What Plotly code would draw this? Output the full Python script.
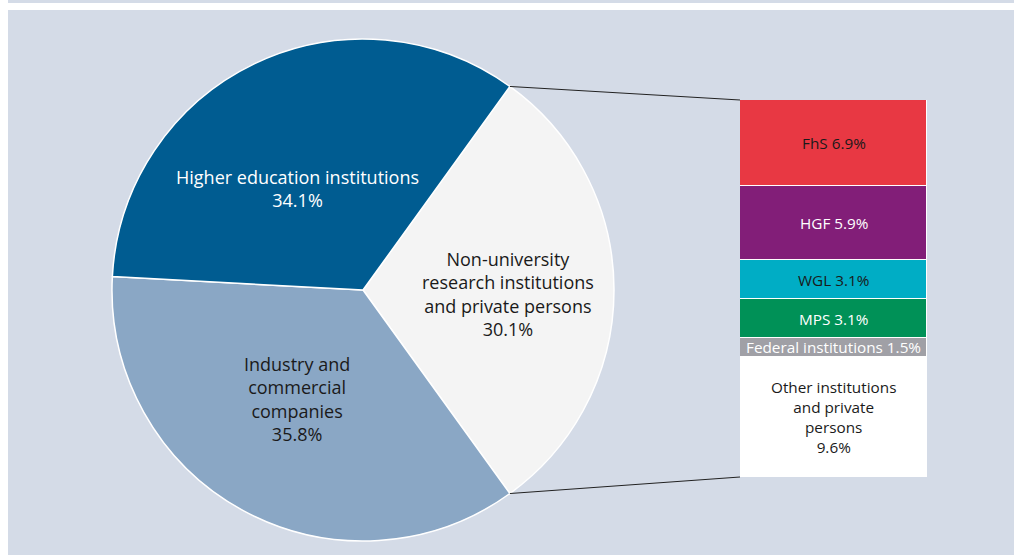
import math
import plotly.graph_objects as go

# Main breakdown (pie), clockwise from the upper-right edge
pie_labels = ["Non-university research institutions and private persons",
              "Industry and commercial companies",
              "Higher education institutions"]
pie_text = ["Non-university<br>research institutions<br>and private persons",
            "Industry and<br>commercial<br>companies",
            "Higher education institutions"]
pie_values = [30.1, 35.8, 34.1]
pie_colors = ["#f4f4f4", "#8aa7c5", "#005c91"]
pie_text_colors = ["#1a1a1a", "#1a1a1a", "#ffffff"]

# Breakdown of the non-university share (stacked bar, bottom to top)
bar_labels = ["Other institutions<br>and private<br>persons", "Federal institutions",
              "MPS", "WGL", "HGF", "FhS"]
bar_values = [9.6, 1.5, 3.1, 3.1, 5.9, 6.9]
bar_colors = ["#ffffff", "#a0a0a6", "#009157", "#00adc5", "#821e78", "#e83843"]
bar_text_colors = ["#1a1a1a", "#ffffff", "#ffffff", "#1a1a1a", "#ffffff", "#1a1a1a"]

W, H = 1015, 555
FONT = "Open Sans"

# Pie geometry (pixels)
cx, cy, r = 363, 290, 251
pie_dom_x = [(cx - r) / W, (cx + r) / W]
pie_dom_y = [(H - cy - r) / H, (H - cy + r) / H]

# Non-university slice is centred on 3 o'clock
first_share = pie_values[0] / sum(pie_values) * 360
rotation = 90 - first_share / 2

# Bar area (pixels)
bx0, bx1, by_top, by_bot = 740, 927, 100, 477
bar_dom_x = [bx0 / W, bx1 / W]
bar_dom_y = [(H - by_bot) / H, (H - by_top) / H]

fig = go.Figure()

fig.add_trace(go.Pie(
    labels=pie_labels, values=pie_values, sort=False, direction="clockwise",
    rotation=rotation, textinfo="none", hoverinfo="label+value",
    marker=dict(colors=pie_colors, line=dict(color="#ffffff", width=1.5)),
    domain=dict(x=pie_dom_x, y=pie_dom_y), showlegend=False,
))

total_bar = sum(bar_values)
cum = 0
for lab, val, col, tcol in zip(bar_labels, bar_values, bar_colors, bar_text_colors):
    fig.add_trace(go.Bar(
        x=["Non-university"], y=[val], marker=dict(color=col, line=dict(color="#ffffff", width=1)),
        showlegend=False, name=lab, hoverinfo="name+y",
    ))
    mid = cum + val / 2
    sep = "<br>" if "<br>" in lab else " "
    fig.add_annotation(
        x="Non-university", y=mid, xref="x", yref="y", showarrow=False,
        xanchor="center", yanchor="middle",
        text=f"{lab}{sep}{val:.1f}%", font=dict(family=FONT, size=15.3, color=tcol),
        align="center",
    )
    cum += val

# Pie labels
pie_label_pos = [(508, 294), (297, 399), (297, 188)]
for txt, val, tcol, (px, py) in zip(pie_text, pie_values, pie_text_colors, pie_label_pos):
    fig.add_annotation(
        x=px / W, y=1 - py / H, xref="paper", yref="paper", showarrow=False,
        xanchor="center", yanchor="middle",
        text=f"{txt}<br>{val:.1f}%", font=dict(family=FONT, size=18, color=tcol),
        align="center",
    )

# Background panel, top strip, and connector lines from the slice edges to the bar
shapes = [
    dict(type="rect", xref="paper", yref="paper", x0=8 / W, x1=1014 / W, y0=0, y1=1 - 10 / H,
         fillcolor="#d4dbe7", line=dict(width=0), layer="below"),
    dict(type="rect", xref="paper", yref="paper", x0=8 / W, x1=1014 / W, y0=1 - 3 / H, y1=1,
         fillcolor="#d4dbe7", line=dict(width=0), layer="below"),
]
for ang, by in [(rotation, by_top), (rotation + first_share, by_bot)]:
    a = math.radians(ang)
    px = cx + r * math.sin(a)
    py = cy - r * math.cos(a)
    shapes.append(dict(type="line", xref="paper", yref="paper",
                       x0=px / W, y0=1 - py / H, x1=bx0 / W, y1=1 - by / H,
                       line=dict(color="#222222", width=1)))

fig.update_layout(
    width=W, height=H, margin=dict(l=0, r=0, t=0, b=0),
    paper_bgcolor="#ffffff", plot_bgcolor="rgba(0,0,0,0)",
    barmode="stack", bargap=0,
    xaxis=dict(domain=bar_dom_x, visible=False, fixedrange=True),
    yaxis=dict(domain=bar_dom_y, range=[0, total_bar], visible=False, fixedrange=True),
    shapes=shapes, font=dict(family=FONT),
)

fig.write_html("out.html")
